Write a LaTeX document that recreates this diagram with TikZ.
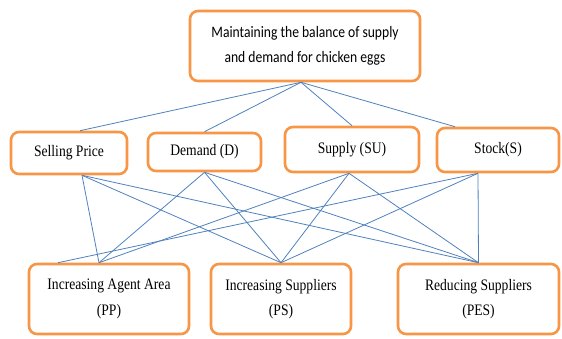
\documentclass[tikz,border=0pt]{standalone}
\usepackage{fontspec}
\setmainfont[FakeStretch=0.85]{Liberation Serif}
\newfontfamily\topfont[FakeStretch=0.85]{Carlito}
\definecolor{boxorange}{HTML}{F79646}
\definecolor{linkblue}{HTML}{4F81BD}
\begin{document}
\begin{tikzpicture}[x=1pt,y=-1pt,
  box/.style={draw=boxorange, line width=2.6pt, rounded corners=8pt, fill=white,
    inner sep=0pt, align=center, font=\fontsize{16}{25.5}\selectfont},
  link/.style={draw=linkblue, line width=0.8pt}]
\useasboundingbox (0,0) rectangle (562,338);
% nodes
\node[box, minimum width=230, minimum height=70, font=\topfont\fontsize{16}{25}\selectfont] (top) at (305,46)
  {Maintaining the balance of supply\\and demand for chicken eggs};
\node[box, minimum width=116, minimum height=42] (sp) at (69,153) {Selling Price};
\node[box, minimum width=113, minimum height=38] (d) at (204.5,152) {Demand (D)};
\node[box, minimum width=134, minimum height=45] (su) at (352,149.5) {Supply (SU)};
\node[box, minimum width=122, minimum height=44] (s) at (498,150) {Stock(S)};
\node[box, minimum width=160, minimum height=70] (pp) at (109,299) {Increasing Agent Area\\(PP)};
\node[box, minimum width=140, minimum height=70] (ps) at (281,299) {Increasing Suppliers\\(PS)};
\node[box, minimum width=161, minimum height=70] (pes) at (478.5,299) {Reducing Suppliers\\(PES)};
% top links
\draw[link] ([xshift=-4pt]top.south) -- ([xshift=11pt]sp.north);
\draw[link] ([xshift=-4pt]top.south) -- (d.north);
\draw[link] ([xshift=-4pt]top.south) -- (su.north);
\draw[link] ([xshift=-4pt]top.south) -- ([xshift=-43pt]s.north);
% middle to bottom
\draw[link] ([xshift=13pt]sp.south) -- ([xshift=-10pt]pp.north);
\draw[link] ([xshift=13pt]sp.south) -- (ps.north);
\draw[link] ([xshift=13pt]sp.south) -- (pes.north);
\draw[link] (d.south) -- ([xshift=-10pt]pp.north);
\draw[link] (d.south) -- (ps.north);
\draw[link] (d.south) -- (pes.north);
\draw[link] ([xshift=-3pt]su.south) -- ([xshift=-10pt]pp.north);
\draw[link] ([xshift=-3pt]su.south) -- (ps.north);
\draw[link] ([xshift=-3pt]su.south) -- (pes.north);
\draw[link] ([xshift=-20pt]s.south) -- ([xshift=-51pt]pp.north);
\draw[link] ([xshift=-20pt]s.south) -- (ps.north);
\draw[link] ([xshift=-20pt]s.south) -- (pes.north);
\end{tikzpicture}
\end{document}
